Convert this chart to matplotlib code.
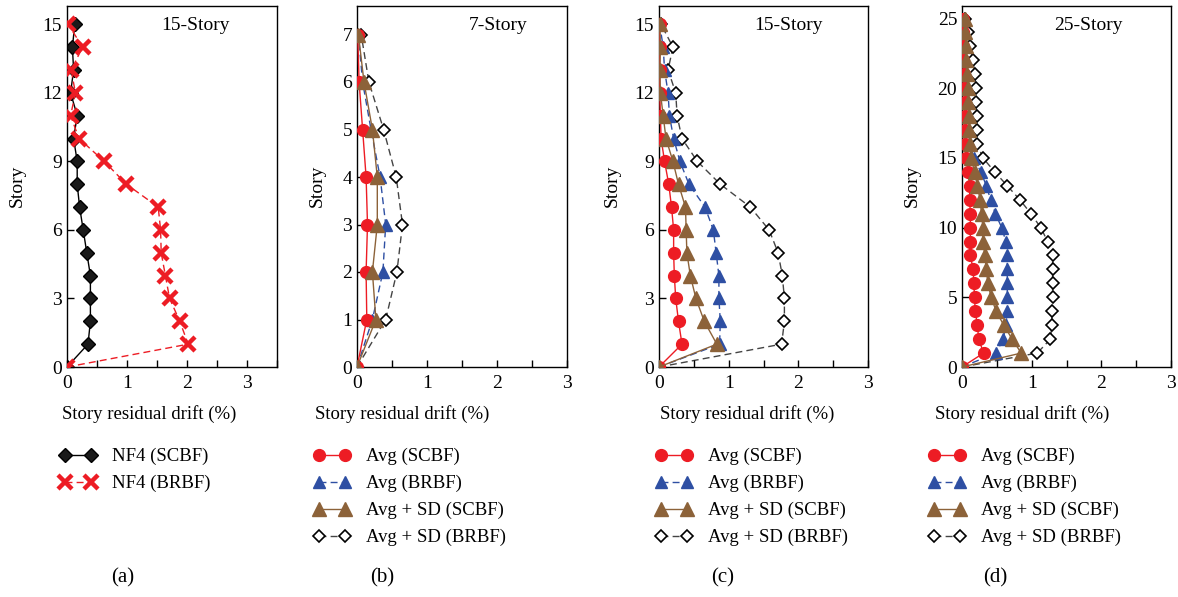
import matplotlib
matplotlib.use("Agg")
import matplotlib.pyplot as plt
from matplotlib.ticker import MultipleLocator

plt.rcParams['font.family'] = ['Liberation Serif', 'DejaVu Serif']
plt.rcParams['font.size'] = 13

RED = '#ED1C24'
BLUE = '#2E4FA3'
BROWN = '#8C6239'

# ---- (a) 15-story, record NF4 ----
stories_a = list(range(16))
nf4_scbf = [0, 0.35, 0.39, 0.39, 0.39, 0.33, 0.27, 0.21, 0.17, 0.17, 0.11, 0.17, 0.06, 0.11, 0.09, 0.13]
nf4_brbf = [0, 2.02, 1.88, 1.71, 1.64, 1.57, 1.56, 1.52, 0.99, 0.62, 0.20, 0.06, 0.14, 0.07, 0.26, 0.02]

# ---- (b) 7-story ----
stories_b = list(range(8))
avg_scbf_7 = [0, 0.14, 0.13, 0.15, 0.13, 0.08, 0.03, 0.01]
avg_brbf_7 = [0, 0.22, 0.37, 0.41, 0.33, 0.20, 0.08, 0.02]
sd_scbf_7 = [0, 0.27, 0.22, 0.29, 0.29, 0.22, 0.10, 0.02]
sd_brbf_7 = [0, 0.41, 0.57, 0.65, 0.56, 0.38, 0.17, 0.06]

# ---- (c) 15-story ----
stories_c = list(range(16))
avg_scbf_15 = [0, 0.33, 0.28, 0.24, 0.22, 0.21, 0.21, 0.18, 0.14, 0.08, 0.03, 0.02, 0.01, 0.01, 0.01, 0.01]
avg_brbf_15 = [0, 0.87, 0.88, 0.86, 0.86, 0.82, 0.78, 0.66, 0.43, 0.30, 0.21, 0.15, 0.13, 0.08, 0.06, 0.01]
sd_scbf_15 = [0, 0.83, 0.65, 0.53, 0.45, 0.40, 0.39, 0.38, 0.28, 0.20, 0.10, 0.06, 0.02, 0.01, 0.02, 0.01]
sd_brbf_15 = [0, 1.76, 1.80, 1.80, 1.77, 1.71, 1.58, 1.31, 0.88, 0.55, 0.33, 0.26, 0.24, 0.13, 0.20, 0.03]

# ---- (d) 25-story ----
stories_d = list(range(26))
avg_scbf_25 = [0, 0.31, 0.24, 0.22, 0.19, 0.18, 0.17, 0.16, 0.12, 0.12, 0.12, 0.12, 0.11, 0.11, 0.09,
               0.06, 0.05, 0.05, 0.04, 0.04, 0.03, 0.03, 0.02, 0.02, 0.01, 0.01]
avg_brbf_25 = [0, 0.49, 0.59, 0.63, 0.65, 0.65, 0.65, 0.65, 0.65, 0.63, 0.57, 0.48, 0.41, 0.35, 0.27,
               0.17, 0.11, 0.10, 0.09, 0.08, 0.07, 0.06, 0.05, 0.04, 0.03, 0.02]
sd_scbf_25 = [0, 0.85, 0.72, 0.60, 0.49, 0.42, 0.37, 0.35, 0.33, 0.30, 0.30, 0.28, 0.26, 0.22, 0.18,
              0.13, 0.11, 0.10, 0.10, 0.09, 0.09, 0.07, 0.06, 0.06, 0.05, 0.04]
sd_brbf_25 = [0, 1.08, 1.27, 1.29, 1.29, 1.30, 1.30, 1.30, 1.30, 1.23, 1.13, 0.99, 0.83, 0.65, 0.47,
              0.30, 0.22, 0.21, 0.21, 0.20, 0.20, 0.18, 0.16, 0.11, 0.09, 0.04]

W, H = 1178, 597
fig = plt.figure(figsize=(W / 100, H / 100), dpi=100)


def px_axes(left, right, top=6, bottom=367):
    return fig.add_axes([left / W, 1 - bottom / H, (right - left) / W, (bottom - top) / H])


def style(ax, xmax, ymax, ystep):
    ax.set_xlim(0, xmax)
    ax.set_ylim(0, ymax)
    ax.xaxis.set_major_locator(MultipleLocator(1))
    ax.xaxis.set_minor_locator(MultipleLocator(0.5))
    ax.yaxis.set_major_locator(MultipleLocator(ystep))
    ax.tick_params(which='both', direction='in', length=5, width=1, labelsize=14)
    ax.tick_params(axis='x', pad=6)
    for s in ax.spines.values():
        s.set_linewidth(1)


def avg_set(ax, s, a1, a2, b1, b2):
    ax.plot(a1, s, color=RED, lw=1, marker='o', ms=8.5, mec=RED, mfc=RED, label='Avg (SCBF)', zorder=3)
    ax.plot(a2, s, color=BLUE, lw=1, ls=(0, (5, 3)), marker='^', ms=8.5, mec=BLUE, mfc=BLUE,
            label='Avg (BRBF)', zorder=2)
    ax.plot(b1, s, color=BROWN, lw=1, marker='^', ms=9.5, mec=BROWN, mfc=BROWN,
            label='Avg + SD (SCBF)', zorder=4)
    ax.plot(b2, s, color='#444444', lw=1, ls=(0, (5, 3)), marker='D', ms=6.5, mec='black', mfc='white',
            mew=1.2, label='Avg + SD (BRBF)', zorder=1)


# (a)
ax_a = px_axes(67, 277)
ax_a.plot(nf4_scbf, stories_a, color='black', lw=1, marker='D', ms=7.5, mec='black', mfc='#1a1a1a',
          label='NF4 (SCBF)', zorder=2)
ax_a.plot(nf4_brbf, stories_a, color=RED, lw=1, ls=(0, (5, 3)), marker='x', ms=10, mew=3.2, mec=RED,
          label='NF4 (BRBF)', zorder=3)
style(ax_a, 3.5, 15.8, 3)

# (b)
ax_b = px_axes(357, 567)
avg_set(ax_b, stories_b, avg_scbf_7, avg_brbf_7, sd_scbf_7, sd_brbf_7)
style(ax_b, 3, 7.6, 1)

# (c)
ax_c = px_axes(659, 868)
avg_set(ax_c, stories_c, avg_scbf_15, avg_brbf_15, sd_scbf_15, sd_brbf_15)
style(ax_c, 3, 15.8, 3)

# (d)
ax_d = px_axes(962, 1171)
avg_set(ax_d, stories_d, avg_scbf_25, avg_brbf_25, sd_scbf_25, sd_brbf_25)
style(ax_d, 3, 25.9, 5)

titles = [('15-Story', 230), ('7-Story', 527), ('15-Story', 823), ('25-Story', 1123)]
for t, xr in titles:
    fig.text(xr / W, 1 - 25 / H, t, ha='right', va='center', fontsize=14)

# y axis titles
for x in [17, 317, 612, 912]:
    fig.text(x / W, 1 - 186 / H, 'Story', rotation=90, ha='center', va='center', fontsize=14)

# x labels, legends and panel letters
xlab_centers = [149, 402, 747, 1022]
legend_left = [59, 313, 655, 928]
letters = [('(a)', 123), ('(b)', 382), ('(c)', 723), ('(d)', 995)]
for ax, xc, lx, (let, lc) in zip([ax_a, ax_b, ax_c, ax_d], xlab_centers, legend_left, letters):
    fig.text(xc / W, 1 - 414 / H, 'Story residual drift (%)', ha='center', va='center', fontsize=13.5)
    fig.text(lc / W, 1 - 578 / H, let, ha='center', va='center', fontsize=15)
    ax.legend(loc='upper left', bbox_to_anchor=(lx / W, 1 - 448 / H), bbox_transform=fig.transFigure,
              frameon=False, numpoints=2, handlelength=2.0, handletextpad=0.85, labelspacing=0.52,
              fontsize=13.5, borderpad=0, borderaxespad=0)

fig.savefig('out.png', dpi=100)
